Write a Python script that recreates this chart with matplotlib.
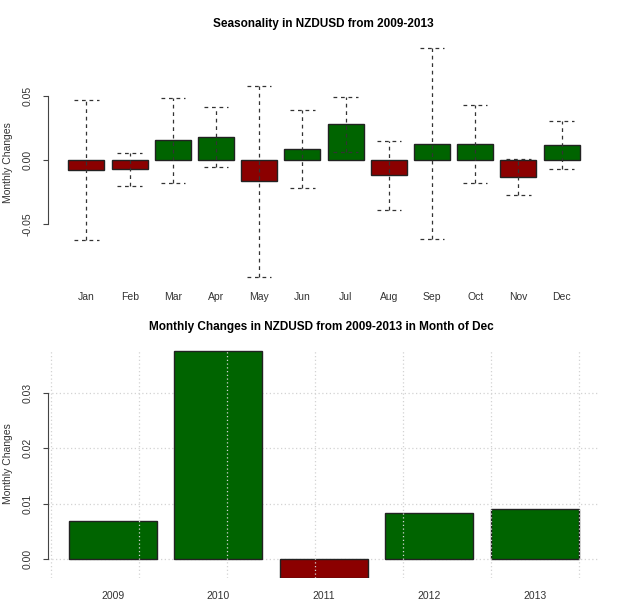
import matplotlib
matplotlib.use("Agg")
import matplotlib.pyplot as plt
import numpy as np

plt.rcParams['font.family'] = ['Liberation Sans', 'DejaVu Sans']

months = ["Jan", "Feb", "Mar", "Apr", "May", "Jun", "Jul", "Aug", "Sep", "Oct", "Nov", "Dec"]
month_mean = [-0.0078, -0.0073, 0.0155, 0.0178, -0.0167, 0.0086, 0.0280, -0.0118, 0.0128, 0.0123, -0.0136, 0.0118]
month_high = [0.0469, 0.0055, 0.0489, 0.0416, 0.0584, 0.0390, 0.0497, 0.0149, 0.0879, 0.0429, 0.0005, 0.0309]
month_low = [-0.0628, -0.0207, -0.0178, -0.0052, -0.0918, -0.0222, 0.0060, -0.0390, -0.0617, -0.0183, -0.0275, -0.0073]

years = ["2009", "2010", "2011", "2012", "2013"]
dec_changes = [0.0069, 0.0376, -0.0033, 0.0084, 0.0090]

GREEN = "#006400"
RED = "#8B0000"
AX = "#444444"
TXT = "#333333"
FS = 7.5

W, H = 624, 602
fig = plt.figure(figsize=(W / 100, H / 100), dpi=100)

def box(l, t, r, b):
    return [l / W, 1 - b / H, (r - l) / W, (b - t) / H]

# ---------- top chart ----------
ax1 = fig.add_axes(box(48, 39, 600, 286))
x1 = 0.7 + 1.2 * np.arange(len(months))
cols1 = [GREEN if v >= 0 else RED for v in month_mean]
ax1.bar(x1, month_mean, width=1.0, color=cols1, edgecolor="#222222", linewidth=1.0, zorder=2)
for xc, lo, hi in zip(x1, month_low, month_high):
    ax1.plot([xc, xc], [lo, hi], color="#333333", lw=0.9, dashes=(3, 3), zorder=3)
    ax1.plot([xc - 0.34, xc + 0.34], [hi, hi], color="#333333", lw=0.9, dashes=(3, 3), zorder=3)
    ax1.plot([xc - 0.34, xc + 0.34], [lo, lo], color="#333333", lw=0.9, dashes=(3, 3), zorder=3)
ax1.set_xlim(-0.368, 14.968)
ax1.set_ylim(-0.0989, 0.095)
for s in ["top", "right", "bottom"]:
    ax1.spines[s].set_visible(False)
ax1.spines["left"].set_bounds(-0.05, 0.05)
ax1.spines["left"].set_color(AX)
ax1.set_yticks([-0.05, 0.0, 0.05])
ax1.set_yticklabels(["-0.05", "0.00", "0.05"], rotation=90, va="center", color=TXT, fontsize=FS)
ax1.tick_params(axis="y", length=3.6, color=AX, pad=7.5)
ax1.set_xticks(x1)
ax1.set_xticklabels(months, color=TXT, fontsize=FS)
ax1.tick_params(axis="x", length=0, pad=4.5)
ax1.set_ylabel("Monthly Changes", color=TXT, fontsize=FS, labelpad=7)
fig.text(323 / W, 1 - 24 / H, "Seasonality in NZDUSD from 2009-2013", ha="center", va="center",
         fontsize=8.5, fontweight="bold")

# ---------- bottom chart ----------
ax2 = fig.add_axes(box(48, 350, 599, 578))
x2 = 0.7 + 1.2 * np.arange(len(years))
cols2 = [GREEN if v >= 0 else RED for v in dec_changes]
ax2.bar(x2, dec_changes, width=1.0, color=cols2, edgecolor="#222222", linewidth=1.0, zorder=2)
ax2.set_xlim(-0.034, 6.227)
ax2.set_ylim(min(dec_changes) - 0.00005, max(dec_changes) + 0.0001)
for g in np.arange(0, 7):
    ax2.axvline(g, color="#d3d3d3", lw=0.9, dashes=(1, 2), zorder=3)
for g in [0.0, 0.01, 0.02, 0.03]:
    ax2.axhline(g, color="#d3d3d3", lw=0.9, dashes=(1, 2), zorder=1)
for s in ["top", "right", "bottom"]:
    ax2.spines[s].set_visible(False)
ax2.spines["left"].set_bounds(0.0, 0.03)
ax2.spines["left"].set_color(AX)
ax2.set_yticks([0.0, 0.01, 0.02, 0.03])
ax2.set_yticklabels(["0.00", "0.01", "0.02", "0.03"], rotation=90, va="center", color=TXT, fontsize=FS)
ax2.tick_params(axis="y", length=3.6, color=AX, pad=7.5)
ax2.set_xticks(x2)
ax2.set_xticklabels(years, color=TXT, fontsize=FS)
ax2.tick_params(axis="x", length=0, pad=9.5)
ax2.set_ylabel("Monthly Changes", color=TXT, fontsize=FS, labelpad=7)
fig.text(321 / W, 1 - 327 / H, "Monthly Changes in NZDUSD from 2009-2013 in Month of Dec", ha="center",
         va="center", fontsize=8.5, fontweight="bold")

fig.savefig("out.png", dpi=100, facecolor="white")
